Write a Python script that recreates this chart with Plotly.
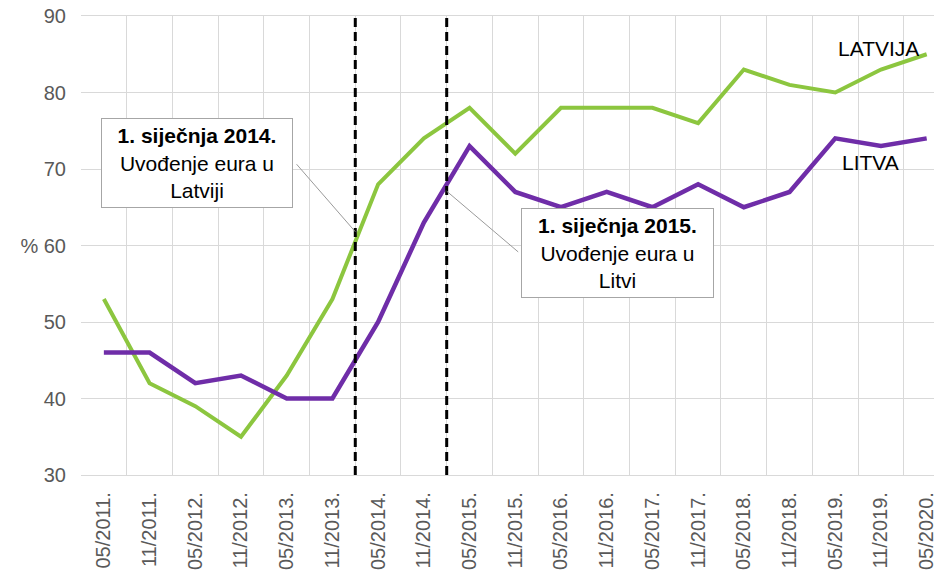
import plotly.graph_objects as go

categories = ["05/2011.", "11/2011.", "05/2012.", "11/2012.", "05/2013.", "11/2013.",
              "05/2014.", "11/2014.", "05/2015.", "11/2015.", "05/2016.", "11/2016.",
              "05/2017.", "11/2017.", "05/2018.", "11/2018.", "05/2019.", "11/2019.",
              "05/2020."]
latvija = [53, 42, 39, 35, 43, 53, 68, 74, 78, 72, 78, 78, 78, 76, 83, 81, 80, 83, 85]
litva = [46, 46, 42, 43, 40, 40, 50, 63, 73, 67, 65, 67, 65, 68, 65, 67, 74, 73, 74]
y_ticks = [30, 40, 50, 60, 70, 80, 90]
y_ticktext = ["30", "40", "50", "% 60", "70", "80", "90"]
euro_lines = [5.5, 7.5]  # boundaries: Jan 2014, Jan 2015

xs = list(range(len(categories)))
GREEN = "#8cc63f"
PURPLE = "#6f2da8"
FONT = "Liberation Sans, Arial, sans-serif"

fig = go.Figure()
fig.add_trace(go.Scatter(x=xs, y=latvija, mode="lines", name="LATVIJA",
                         line=dict(color=GREEN, width=4), cliponaxis=False))
fig.add_trace(go.Scatter(x=xs, y=litva, mode="lines", name="LITVA",
                         line=dict(color=PURPLE, width=4.5), cliponaxis=False))

for xv in euro_lines:
    fig.add_shape(type="line", xref="x", yref="y", x0=xv, x1=xv, y0=30, y1=90,
                  line=dict(color="black", width=3, dash="9px,5px"), layer="above")

annotations = [
    dict(x=euro_lines[0], y=61.8, xref="x", yref="y", text="", showarrow=True,
         arrowhead=0, arrowwidth=1, arrowcolor="#9a9a9a", ax=-60, ay=-69, standoff=0),
    dict(x=euro_lines[1], y=67.1, xref="x", yref="y", text="", showarrow=True,
         arrowhead=0, arrowwidth=1, arrowcolor="#9a9a9a", ax=73, ay=62, standoff=0),
    dict(x=2.04, y=70.8, xref="x", yref="y", showarrow=False,
         text="<b>1. siječnja 2014.</b><br>Uvođenje eura u<br>Latviji",
         font=dict(family=FONT, size=21, color="black"),
         bgcolor="white", bordercolor="#a6a6a6", borderwidth=1,
         width=188, height=86, align="center"),
    dict(x=11.24, y=59.0, xref="x", yref="y", showarrow=False,
         text="<b>1. siječnja 2015.</b><br>Uvođenje eura u<br>Litvi",
         font=dict(family=FONT, size=21, color="black"),
         bgcolor="white", bordercolor="#a6a6a6", borderwidth=1,
         width=189, height=86, align="center"),
    dict(x=16.94, y=85.8, xref="x", yref="y", text="LATVIJA", showarrow=False,
         font=dict(family=FONT, size=21, color="black")),
    dict(x=16.76, y=70.9, xref="x", yref="y", text="LITVA", showarrow=False,
         font=dict(family=FONT, size=21, color="black")),
]

fig.update_layout(
    width=934, height=573,
    margin=dict(l=81, r=0, t=16, b=98),
    paper_bgcolor="white", plot_bgcolor="white",
    showlegend=False,
    font=dict(family=FONT, size=20, color="#595959"),
    annotations=annotations,
    xaxis=dict(
        range=[-0.5, 18.16], automargin=False, ticklabeloverflow="allow",
        tickmode="array", tickvals=xs, ticktext=categories,
        tickangle=-90, showgrid=False, zeroline=False,
        showline=True, mirror=True, linecolor="#d9d9d9", linewidth=1.3,
        ticks="", ticklabelstandoff=8,
        tickfont=dict(family=FONT, size=20, color="#595959"),
        minor=dict(tickmode="array", tickvals=[i - 0.5 for i in range(len(categories) + 1)],
                   showgrid=True, gridcolor="#d9d9d9", gridwidth=1.3, ticks=""),
    ),
    yaxis=dict(
        range=[30, 90], automargin=False, ticklabeloverflow="allow",
        tickmode="array", tickvals=y_ticks, ticktext=y_ticktext,
        showgrid=True, gridcolor="#d9d9d9", gridwidth=1.3, zeroline=False,
        showline=False, ticks="", ticklabelstandoff=14,
        tickfont=dict(family=FONT, size=20, color="#595959"),
    ),
)

fig.write_html("out.html", config={"displayModeBar": False},
               post_script="document.body.style.margin='0';document.body.style.overflow='hidden';")
